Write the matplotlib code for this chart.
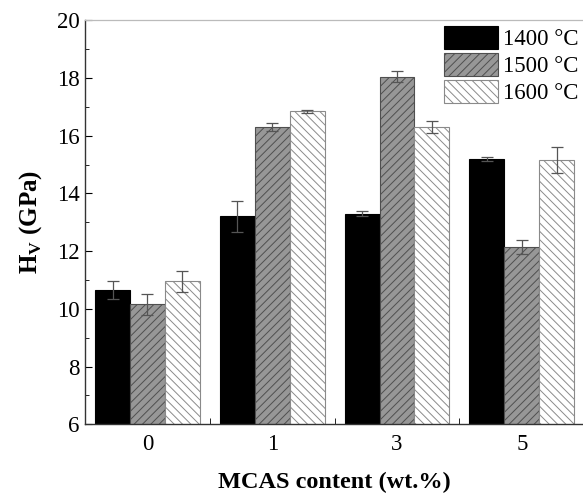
import numpy as np
import matplotlib.pyplot as plt
from matplotlib.ticker import MultipleLocator

plt.rcParams['font.family'] = ['Liberation Serif', 'DejaVu Serif']
plt.rcParams['mathtext.fontset'] = 'custom'
plt.rcParams['mathtext.rm'] = 'Liberation Serif'
plt.rcParams['mathtext.bf'] = 'Liberation Serif:bold'
plt.rcParams['hatch.linewidth'] = 0.7

groups = ['0', '1', '3', '5']
series = ['1400 °C', '1500 °C', '1600 °C']
hv_1400 = [10.65, 13.2, 13.3, 15.2]
hv_1500 = [10.15, 16.3, 18.05, 12.15]
hv_1600 = [10.95, 16.85, 16.3, 15.15]
err_1400 = [0.32, 0.55, 0.08, 0.07]
err_1500 = [0.35, 0.15, 0.2, 0.25]
err_1600 = [0.37, 0.05, 0.2, 0.45]

values = [hv_1400, hv_1500, hv_1600]
errors = [err_1400, err_1500, err_1600]
faces = ['black', '#979797', 'white']
edges = ['black', '#4f4f4f', '#8a8a8a']
hatches = [None, '////', '\\\\\\\\']

fig = plt.figure(figsize=(5.83, 4.95), dpi=100)
ax = fig.add_axes([0.146, 0.143, 0.856, 0.816])

x = np.arange(len(groups))
w = 0.28
for i in range(3):
    ax.bar(x + (i - 1) * w, values[i], w, color=faces[i], edgecolor=edges[i],
           hatch=hatches[i], linewidth=0.8, label=series[i],
           yerr=errors[i], capsize=4, error_kw=dict(ecolor='#555555', elinewidth=0.9, capthick=0.9))

ax.set_xlim(-0.5, 3.5)
ax.set_ylim(6, 20)
ax.set_xticks(x)
ax.set_xticklabels(groups)
ax.set_xticks([0.5, 1.5, 2.5], minor=True)
ax.yaxis.set_major_locator(MultipleLocator(2))
ax.yaxis.set_minor_locator(MultipleLocator(1))
ax.tick_params(axis='both', which='both', direction='in', labelsize=16.5, top=False, right=False)
ax.tick_params(axis='x', which='major', length=0, pad=7)
ax.tick_params(axis='x', which='minor', length=4)
ax.tick_params(axis='y', which='major', length=5, pad=4)
ax.tick_params(axis='y', which='minor', length=3)

ax.set_ylabel('H$_\\mathbf{V}$ (GPa)', fontsize=18, fontweight='bold', labelpad=9)
ax.set_xlabel('MCAS content (wt.%)', fontsize=17.5, fontweight='bold', labelpad=12)

for s in ['left', 'bottom']:
    ax.spines[s].set_color('#333333')
    ax.spines[s].set_linewidth(1.0)
ax.spines['top'].set_color('#bbbbbb')
ax.spines['top'].set_linewidth(0.9)
ax.spines['right'].set_visible(False)

ax.legend(loc='upper right', frameon=False, fontsize=16.5, handlelength=2.36, handleheight=1.15,
          handletextpad=0.2, labelspacing=0.12, borderpad=0.15, borderaxespad=0.1)

fig.savefig('out.png', dpi=100)
